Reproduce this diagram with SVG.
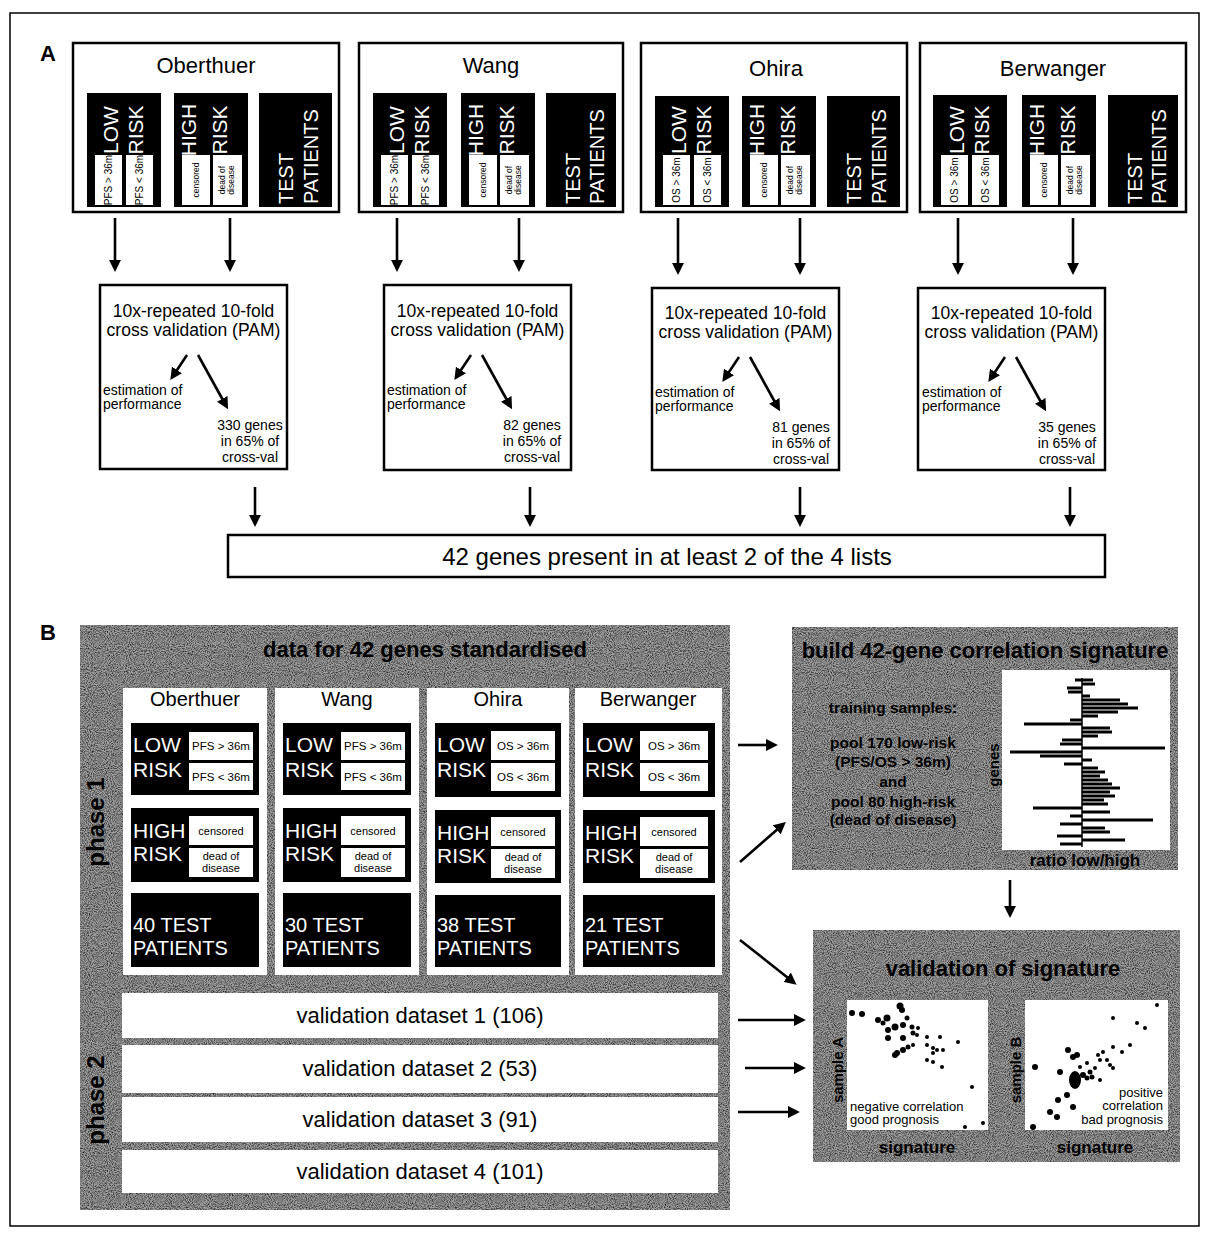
<svg xmlns="http://www.w3.org/2000/svg" width="1210" height="1237" viewBox="0 0 1210 1237">
  <defs>
    <style>
      text { font-family: "Liberation Sans", Arial, sans-serif; fill: #000; }
      .box { fill: #fff; stroke: #000; stroke-width: 2.5; }
      .blk { fill: #000; }
      .wsub { fill: #fff; }
      .ttl { font-size: 22px; text-anchor: middle; }
      .rot { text-anchor: middle; }
      .tiny { font-size: 10px; text-anchor: middle; }
      .tiny2 { font-size: 8.5px; text-anchor: middle; }
      .cv { font-size: 17.5px; text-anchor: middle; }
      .sm { font-size: 14px; }
      .smc { font-size: 14px; text-anchor: middle; }
      .bt { font-size: 20px; text-anchor: middle; }
      .lr { font-size: 21px; fill: #fff; }
      .tp { font-size: 20px; fill: #fff; }
      .sub { font-size: 11.5px; text-anchor: middle; }
      .sub2 { font-size: 11px; text-anchor: middle; }
      .val { font-size: 22px; text-anchor: middle; }
      .hd { font-size: 22px; font-weight: bold; text-anchor: middle; fill: #000; }
      .bold { font-weight: bold; fill: #000; }
      .arrow { stroke: #000; stroke-width: 2.6; fill: none; marker-end: url(#ah); }
      .white { fill: #fff; }
      .dot { fill: #000; }
      .panel { fill: #a0a0a0; }
    </style>
    <marker id="ah" viewBox="0 0 10 10" refX="3" refY="5" markerWidth="12" markerHeight="12" markerUnits="userSpaceOnUse" orient="auto">
      <path d="M0,0 L10,5 L0,10 z" fill="#000"/>
    </marker>
    <!-- fine speckle used on the grey panels -->
    <filter id="grain" x="0" y="0" width="1" height="1" color-interpolation-filters="sRGB">
      <feTurbulence type="fractalNoise" baseFrequency="0.95" numOctaves="2" seed="7"/>
      <feColorMatrix type="matrix" values="0 0 0 0 0  0 0 0 0 0  0 0 0 0 0  1.6 0 0 0 -0.58"/>
    </filter>
  </defs>

  <rect width="1210" height="1237" fill="#fff"/>
  <!-- outer frame -->
  <rect x="10" y="13" width="1189" height="1213" fill="none" stroke="#000" stroke-width="1.5"/>

  <!-- ===================== Panel A ===================== -->
  <text x="40" y="61" font-size="22" font-weight="bold">A</text>

  <!-- Oberthuer -->
  <g id="a-oberthuer">
    <rect class="box" x="73" y="43" width="266" height="169"/>
    <text class="ttl" x="206" y="73">Oberthuer</text>
    <rect class="blk" x="87" y="93" width="74" height="114"/>
    <rect class="wsub" x="95" y="155" width="27" height="50"/>
    <rect class="wsub" x="126" y="155" width="27" height="50"/>
    <text class="lr rot" transform="translate(118,130) rotate(-90)">LOW</text>
    <text class="lr rot" transform="translate(143,130) rotate(-90)">RISK</text>
    <text class="tiny" transform="translate(112,180) rotate(-90)">PFS &gt; 36m</text>
    <text class="tiny" transform="translate(143,180) rotate(-90)">PFS &lt; 36m</text>
    <rect class="blk" x="174" y="93" width="74" height="114"/>
    <rect class="wsub" x="182" y="155" width="28" height="50"/>
    <rect class="wsub" x="213" y="155" width="29" height="50"/>
    <text class="lr rot" transform="translate(196,130) rotate(-90)">HIGH</text>
    <text class="lr rot" transform="translate(227,130) rotate(-90)">RISK</text>
    <text class="tiny2" transform="translate(199,180) rotate(-90)">censored</text>
    <text class="tiny2" transform="translate(225,180) rotate(-90)">dead of</text>
    <text class="tiny2" transform="translate(234,180) rotate(-90)">disease</text>
    <rect class="blk" x="259" y="93" width="73" height="114"/>
    <text class="tp" font-size="19" transform="translate(293,204) rotate(-90)">TEST</text>
    <text class="tp" font-size="19" transform="translate(318,204) rotate(-90)">PATIENTS</text>
  </g>

  <!-- Wang -->
  <g id="a-wang">
    <rect class="box" x="359" y="43" width="264" height="169"/>
    <text class="ttl" x="491" y="73">Wang</text>
    <rect class="blk" x="373" y="93" width="74" height="114"/>
    <rect class="wsub" x="381" y="155" width="27" height="50"/>
    <rect class="wsub" x="412" y="155" width="27" height="50"/>
    <text class="lr rot" transform="translate(404,130) rotate(-90)">LOW</text>
    <text class="lr rot" transform="translate(429,130) rotate(-90)">RISK</text>
    <text class="tiny" transform="translate(398,180) rotate(-90)">PFS &gt; 36m</text>
    <text class="tiny" transform="translate(429,180) rotate(-90)">PFS &lt; 36m</text>
    <rect class="blk" x="461" y="93" width="74" height="114"/>
    <rect class="wsub" x="469" y="155" width="28" height="50"/>
    <rect class="wsub" x="500" y="155" width="29" height="50"/>
    <text class="lr rot" transform="translate(483,130) rotate(-90)">HIGH</text>
    <text class="lr rot" transform="translate(514,130) rotate(-90)">RISK</text>
    <text class="tiny2" transform="translate(486,180) rotate(-90)">censored</text>
    <text class="tiny2" transform="translate(512,180) rotate(-90)">dead of</text>
    <text class="tiny2" transform="translate(521,180) rotate(-90)">disease</text>
    <rect class="blk" x="546" y="93" width="70" height="114"/>
    <text class="tp" font-size="19" transform="translate(580,204) rotate(-90)">TEST</text>
    <text class="tp" font-size="19" transform="translate(604,204) rotate(-90)">PATIENTS</text>
  </g>

  <!-- Ohira -->
  <g id="a-ohira">
    <rect class="box" x="641" y="43" width="266" height="169"/>
    <text class="ttl" x="776" y="76">Ohira</text>
    <rect class="blk" x="655" y="96" width="74" height="111"/>
    <rect class="wsub" x="663" y="155" width="27" height="50"/>
    <rect class="wsub" x="694" y="155" width="27" height="50"/>
    <text class="lr rot" transform="translate(686,130) rotate(-90)">LOW</text>
    <text class="lr rot" transform="translate(711,130) rotate(-90)">RISK</text>
    <text class="tiny" transform="translate(680,180) rotate(-90)">OS &gt; 36m</text>
    <text class="tiny" transform="translate(711,180) rotate(-90)">OS &lt; 36m</text>
    <rect class="blk" x="742" y="96" width="74" height="111"/>
    <rect class="wsub" x="750" y="155" width="28" height="50"/>
    <rect class="wsub" x="781" y="155" width="29" height="50"/>
    <text class="lr rot" transform="translate(764,130) rotate(-90)">HIGH</text>
    <text class="lr rot" transform="translate(795,130) rotate(-90)">RISK</text>
    <text class="tiny2" transform="translate(767,180) rotate(-90)">censored</text>
    <text class="tiny2" transform="translate(793,180) rotate(-90)">dead of</text>
    <text class="tiny2" transform="translate(802,180) rotate(-90)">disease</text>
    <rect class="blk" x="827" y="96" width="73" height="111"/>
    <text class="tp" font-size="19" transform="translate(861,204) rotate(-90)">TEST</text>
    <text class="tp" font-size="19" transform="translate(886,204) rotate(-90)">PATIENTS</text>
  </g>

  <!-- Berwanger -->
  <g id="a-berwanger">
    <rect class="box" x="920" y="43" width="266" height="169"/>
    <text class="ttl" x="1053" y="76">Berwanger</text>
    <rect class="blk" x="933" y="95" width="74" height="112"/>
    <rect class="wsub" x="941" y="155" width="27" height="50"/>
    <rect class="wsub" x="972" y="155" width="27" height="50"/>
    <text class="lr rot" transform="translate(964,130) rotate(-90)">LOW</text>
    <text class="lr rot" transform="translate(989,130) rotate(-90)">RISK</text>
    <text class="tiny" transform="translate(958,180) rotate(-90)">OS &gt; 36m</text>
    <text class="tiny" transform="translate(989,180) rotate(-90)">OS &lt; 36m</text>
    <rect class="blk" x="1022" y="95" width="74" height="112"/>
    <rect class="wsub" x="1030" y="155" width="28" height="50"/>
    <rect class="wsub" x="1061" y="155" width="29" height="50"/>
    <text class="lr rot" transform="translate(1044,130) rotate(-90)">HIGH</text>
    <text class="lr rot" transform="translate(1075,130) rotate(-90)">RISK</text>
    <text class="tiny2" transform="translate(1047,180) rotate(-90)">censored</text>
    <text class="tiny2" transform="translate(1073,180) rotate(-90)">dead of</text>
    <text class="tiny2" transform="translate(1082,180) rotate(-90)">disease</text>
    <rect class="blk" x="1108" y="95" width="70" height="112"/>
    <text class="tp" font-size="19" transform="translate(1142,204) rotate(-90)">TEST</text>
    <text class="tp" font-size="19" transform="translate(1166,204) rotate(-90)">PATIENTS</text>
  </g>

  <!-- cross-validation boxes -->
  <g id="cv-oberthuer">
    <rect class="box" x="100" y="285" width="187" height="184"/>
    <text class="cv" x="193.5" y="317">10x-repeated 10-fold</text>
    <text class="cv" x="193.5" y="336">cross validation (PAM)</text>
    <text class="sm" x="103" y="395">estimation of</text>
    <text class="sm" x="103" y="409">performance</text>
    <text class="smc" x="250" y="430">330 genes</text>
    <text class="smc" x="250" y="446">in 65% of</text>
    <text class="smc" x="250" y="462">cross-val</text>
  </g>
  <g id="cv-wang">
    <rect class="box" x="384" y="285" width="187" height="185"/>
    <text class="cv" x="477.5" y="317">10x-repeated 10-fold</text>
    <text class="cv" x="477.5" y="336">cross validation (PAM)</text>
    <text class="sm" x="387" y="395">estimation of</text>
    <text class="sm" x="387" y="409">performance</text>
    <text class="smc" x="532" y="430">82 genes</text>
    <text class="smc" x="532" y="446">in 65% of</text>
    <text class="smc" x="532" y="462">cross-val</text>
  </g>
  <g id="cv-ohira">
    <rect class="box" x="652" y="288" width="187" height="182"/>
    <text class="cv" x="745.5" y="319">10x-repeated 10-fold</text>
    <text class="cv" x="745.5" y="338">cross validation (PAM)</text>
    <text class="sm" x="655" y="397">estimation of</text>
    <text class="sm" x="655" y="411">performance</text>
    <text class="smc" x="801" y="432">81 genes</text>
    <text class="smc" x="801" y="448">in 65% of</text>
    <text class="smc" x="801" y="464">cross-val</text>
  </g>
  <g id="cv-berwanger">
    <rect class="box" x="918" y="288" width="187" height="182"/>
    <text class="cv" x="1011.5" y="319">10x-repeated 10-fold</text>
    <text class="cv" x="1011.5" y="338">cross validation (PAM)</text>
    <text class="sm" x="922" y="397">estimation of</text>
    <text class="sm" x="922" y="411">performance</text>
    <text class="smc" x="1067" y="432">35 genes</text>
    <text class="smc" x="1067" y="448">in 65% of</text>
    <text class="smc" x="1067" y="464">cross-val</text>
  </g>

  <g id="gene-list">
    <rect class="box" x="228" y="535" width="877" height="42"/>
    <text x="667" y="565" font-size="24" text-anchor="middle">42 genes present in at least 2 of the 4 lists</text>
  </g>

  <!-- ===================== Panel B ===================== -->
  <text x="40" y="640" font-size="22" font-weight="bold">B</text>

  <g id="b-data">
    <rect class="panel" x="80" y="625" width="650" height="585"/>
    <rect x="80" y="625" width="650" height="585" filter="url(#grain)"/>
    <text class="hd" x="425" y="657">data for 42 genes standardised</text>
    <text class="bold" font-size="24" text-anchor="middle" transform="translate(104,822) rotate(-90)">phase 1</text>
    <text class="bold" font-size="24" text-anchor="middle" transform="translate(104,1100) rotate(-90)">phase 2</text>
  </g>

  <g id="b-oberthuer">
    <rect class="white" x="123" y="688" width="144" height="287"/>
    <text class="bt" x="195" y="706">Oberthuer</text>
    <rect class="blk" x="131" y="723" width="128" height="72"/>
    <text class="lr" x="133" y="752">LOW</text>
    <text class="lr" x="133" y="777">RISK</text>
    <rect class="wsub" x="189" y="732" width="64" height="28"/>
    <rect class="wsub" x="189" y="763" width="64" height="27"/>
    <text class="sub" x="221" y="750">PFS &gt; 36m</text>
    <text class="sub" x="221" y="781">PFS &lt; 36m</text>
    <rect class="blk" x="131" y="808" width="128" height="74"/>
    <text class="lr" x="133" y="838">HIGH</text>
    <text class="lr" x="133" y="861">RISK</text>
    <rect class="wsub" x="189" y="816" width="64" height="29"/>
    <rect class="wsub" x="189" y="848" width="64" height="29"/>
    <text class="sub2" x="221" y="835">censored</text>
    <text class="sub2" x="221" y="860">dead of</text>
    <text class="sub2" x="221" y="872">disease</text>
    <rect class="blk" x="131" y="893" width="128" height="74"/>
    <text class="tp" x="133" y="932">40 TEST</text>
    <text class="tp" x="133" y="955">PATIENTS</text>
  </g>

  <g id="b-wang">
    <rect class="white" x="275" y="688" width="144" height="287"/>
    <text class="bt" x="347" y="706">Wang</text>
    <rect class="blk" x="283" y="723" width="128" height="72"/>
    <text class="lr" x="285" y="752">LOW</text>
    <text class="lr" x="285" y="777">RISK</text>
    <rect class="wsub" x="341" y="732" width="64" height="28"/>
    <rect class="wsub" x="341" y="763" width="64" height="27"/>
    <text class="sub" x="373" y="750">PFS &gt; 36m</text>
    <text class="sub" x="373" y="781">PFS &lt; 36m</text>
    <rect class="blk" x="283" y="808" width="128" height="74"/>
    <text class="lr" x="285" y="838">HIGH</text>
    <text class="lr" x="285" y="861">RISK</text>
    <rect class="wsub" x="341" y="816" width="64" height="29"/>
    <rect class="wsub" x="341" y="848" width="64" height="29"/>
    <text class="sub2" x="373" y="835">censored</text>
    <text class="sub2" x="373" y="860">dead of</text>
    <text class="sub2" x="373" y="872">disease</text>
    <rect class="blk" x="283" y="893" width="128" height="74"/>
    <text class="tp" x="285" y="932">30 TEST</text>
    <text class="tp" x="285" y="955">PATIENTS</text>
  </g>

  <g id="b-ohira">
    <rect class="white" x="427" y="688" width="142" height="287"/>
    <text class="bt" x="498" y="706">Ohira</text>
    <rect class="blk" x="435" y="723" width="126" height="74"/>
    <text class="lr" x="437" y="752">LOW</text>
    <text class="lr" x="437" y="777">RISK</text>
    <rect class="wsub" x="491" y="731" width="64" height="29"/>
    <rect class="wsub" x="491" y="763" width="64" height="28"/>
    <text class="sub" x="523" y="750">OS &gt; 36m</text>
    <text class="sub" x="523" y="781">OS &lt; 36m</text>
    <rect class="blk" x="435" y="810" width="126" height="73"/>
    <text class="lr" x="437" y="840">HIGH</text>
    <text class="lr" x="437" y="863">RISK</text>
    <rect class="wsub" x="491" y="817" width="64" height="29"/>
    <rect class="wsub" x="491" y="849" width="64" height="29"/>
    <text class="sub2" x="523" y="836">censored</text>
    <text class="sub2" x="523" y="861">dead of</text>
    <text class="sub2" x="523" y="873">disease</text>
    <rect class="blk" x="435" y="895" width="126" height="72"/>
    <text class="tp" x="437" y="932">38 TEST</text>
    <text class="tp" x="437" y="955">PATIENTS</text>
  </g>

  <g id="b-berwanger">
    <rect class="white" x="575" y="688" width="147" height="287"/>
    <text class="bt" x="648" y="706">Berwanger</text>
    <rect class="blk" x="583" y="723" width="132" height="74"/>
    <text class="lr" x="585" y="752">LOW</text>
    <text class="lr" x="585" y="777">RISK</text>
    <rect class="wsub" x="640" y="731" width="68" height="29"/>
    <rect class="wsub" x="640" y="763" width="68" height="28"/>
    <text class="sub" x="674" y="750">OS &gt; 36m</text>
    <text class="sub" x="674" y="781">OS &lt; 36m</text>
    <rect class="blk" x="583" y="810" width="132" height="73"/>
    <text class="lr" x="585" y="840">HIGH</text>
    <text class="lr" x="585" y="863">RISK</text>
    <rect class="wsub" x="640" y="817" width="68" height="29"/>
    <rect class="wsub" x="640" y="849" width="68" height="29"/>
    <text class="sub2" x="674" y="836">censored</text>
    <text class="sub2" x="674" y="861">dead of</text>
    <text class="sub2" x="674" y="873">disease</text>
    <rect class="blk" x="583" y="895" width="132" height="72"/>
    <text class="tp" x="585" y="932">21 TEST</text>
    <text class="tp" x="585" y="955">PATIENTS</text>
  </g>

  <g id="validation-1">
    <rect class="white" x="122" y="993" width="596" height="45"/>
    <text class="val" x="420" y="1023">validation dataset 1 (106)</text>
  </g>
  <g id="validation-2">
    <rect class="white" x="122" y="1045" width="596" height="48"/>
    <text class="val" x="420" y="1076">validation dataset 2 (53)</text>
  </g>
  <g id="validation-3">
    <rect class="white" x="122" y="1097" width="596" height="45"/>
    <text class="val" x="420" y="1127">validation dataset 3 (91)</text>
  </g>
  <g id="validation-4">
    <rect class="white" x="122" y="1150" width="596" height="43"/>
    <text class="val" x="420" y="1179">validation dataset 4 (101)</text>
  </g>

  <!-- signature construction -->
  <g id="build-signature">
    <rect class="panel" x="792" y="627" width="386" height="243"/>
    <rect x="792" y="627" width="386" height="243" filter="url(#grain)"/>
    <text class="hd" x="985" y="658">build 42-gene correlation signature</text>
    <g class="bold" font-size="15.5" text-anchor="middle">
      <text x="893" y="713">training samples:</text>
      <text x="893" y="748">pool 170 low-risk</text>
      <text x="893" y="767">(PFS/OS &gt; 36m)</text>
      <text x="893" y="787">and</text>
      <text x="893" y="807">pool 80 high-risk</text>
      <text x="893" y="825">(dead of disease)</text>
    </g>
    <rect class="white" x="1002" y="670" width="168" height="180"/>
    <text class="bold" font-size="15" text-anchor="middle" transform="translate(999,765) rotate(-90)">genes</text>
    <text class="bold" font-size="17" text-anchor="middle" x="1085" y="866">ratio low/high</text>
    <line x1="1082" y1="678" x2="1082" y2="847" stroke="#000" stroke-width="1.5"/>
    <path stroke="#000" stroke-width="3" fill="none" d="
      M1075,680 H1093 M1082,684 H1095 M1067,688 H1082 M1068,692 H1082 M1082,696 H1090
      M1082,700 H1120 M1082,704 H1128 M1082,708 H1138 M1082,712 H1118 M1082,716 H1098
      M1070,720 H1082 M1024,724 H1082 M1082,728 H1110 M1082,732 H1112 M1082,736 H1098
      M1062,740 H1082 M1060,744 H1082 M1082,748 H1165 M1010,752 H1082 M1040,756 H1082
      M1082,760 H1092 M1064,764 H1082 M1082,768 H1098 M1082,772 H1105 M1082,776 H1100
      M1082,780 H1108 M1082,784 H1112 M1082,788 H1120 M1082,792 H1110 M1082,796 H1115
      M1082,800 H1104 M1082,804 H1108 M1033,808 H1082 M1082,812 H1110 M1070,816 H1082
      M1082,820 H1153 M1060,824 H1082 M1082,828 H1105 M1082,832 H1110 M1057,836 H1082
      M1082,840 H1125 M1060,844 H1082"/>
  </g>

  <!-- validation of the signature -->
  <g id="validate-signature">
    <rect class="panel" x="813" y="930" width="367" height="232"/>
    <rect x="813" y="930" width="367" height="232" filter="url(#grain)"/>
    <text class="hd" x="1003" y="976">validation of signature</text>
    <rect class="white" x="847" y="1000" width="141" height="130"/>
    <rect class="white" x="1025" y="1000" width="143" height="130"/>
    <text class="bold" font-size="15" text-anchor="middle" transform="translate(843,1070) rotate(-90)">sample A</text>
    <text class="bold" font-size="15" text-anchor="middle" transform="translate(1021,1070) rotate(-90)">sample B</text>
    <text class="bold" font-size="17" text-anchor="middle" x="917" y="1153">signature</text>
    <text class="bold" font-size="17" text-anchor="middle" x="1095" y="1153">signature</text>
    <text font-size="13" x="850" y="1111">negative correlation</text>
    <text font-size="13" x="850" y="1124">good prognosis</text>
    <text font-size="13" x="1163" y="1097" text-anchor="end">positive</text>
    <text font-size="13" x="1163" y="1110" text-anchor="end">correlation</text>
    <text font-size="13" x="1163" y="1124" text-anchor="end">bad prognosis</text>
    <g class="dot">
      <circle cx="852" cy="1013" r="3"/><circle cx="862" cy="1014" r="3"/><circle cx="878" cy="1020" r="3"/>
      <circle cx="887" cy="1018" r="3.5"/><circle cx="900" cy="1006" r="3.5"/><circle cx="902" cy="1010" r="3"/>
      <circle cx="888" cy="1030" r="3"/><circle cx="895" cy="1027" r="3.5"/><circle cx="903" cy="1025" r="3"/>
      <circle cx="907" cy="1018" r="2.5"/><circle cx="912" cy="1027" r="2.5"/><circle cx="888" cy="1038" r="3"/>
      <circle cx="903" cy="1038" r="3"/><circle cx="913" cy="1033" r="2.5"/><circle cx="918" cy="1028" r="2"/>
      <circle cx="917" cy="1035" r="2"/><circle cx="927" cy="1037" r="2"/><circle cx="940" cy="1037" r="2"/>
      <circle cx="958" cy="1042" r="2"/><circle cx="903" cy="1050" r="3"/><circle cx="897" cy="1053" r="3"/>
      <circle cx="908" cy="1047" r="2.5"/><circle cx="913" cy="1045" r="2"/><circle cx="927" cy="1045" r="2"/>
      <circle cx="933" cy="1048" r="2"/><circle cx="937" cy="1050" r="2"/><circle cx="943" cy="1050" r="2"/>
      <circle cx="933" cy="1053" r="2"/><circle cx="927" cy="1060" r="2"/><circle cx="933" cy="1062" r="2"/>
      <circle cx="942" cy="1067" r="2"/><circle cx="972" cy="1087" r="2"/><circle cx="965" cy="1127" r="2"/>
      <circle cx="983" cy="1123" r="2"/><circle cx="895" cy="1055" r="3"/><circle cx="883" cy="1023" r="2.5"/>
      <circle cx="1157" cy="1005" r="2"/><circle cx="1113" cy="1018" r="2"/><circle cx="1137" cy="1023" r="2"/>
      <circle cx="1145" cy="1028" r="2"/><circle cx="1130" cy="1045" r="2"/><circle cx="1113" cy="1047" r="2"/>
      <circle cx="1068" cy="1050" r="3"/><circle cx="1073" cy="1057" r="3"/><circle cx="1077" cy="1055" r="3"/>
      <circle cx="1098" cy="1055" r="2"/><circle cx="1103" cy="1052" r="2"/><circle cx="1107" cy="1060" r="2"/>
      <circle cx="1100" cy="1060" r="2"/><circle cx="1110" cy="1065" r="2"/><circle cx="1113" cy="1068" r="2"/>
      <circle cx="1035" cy="1067" r="3"/><circle cx="1060" cy="1072" r="3"/><circle cx="1080" cy="1067" r="2"/>
      <circle cx="1087" cy="1063" r="2"/><circle cx="1090" cy="1072" r="2.5"/><circle cx="1083" cy="1075" r="3"/>
      <circle cx="1092" cy="1077" r="2.5"/><circle cx="1100" cy="1080" r="2"/><circle cx="1087" cy="1078" r="2.5"/>
      <circle cx="1067" cy="1095" r="3"/><circle cx="1058" cy="1100" r="3"/><circle cx="1073" cy="1107" r="3"/>
      <circle cx="1050" cy="1112" r="3"/><circle cx="1057" cy="1117" r="3"/><circle cx="1033" cy="1127" r="3"/>
      <circle cx="1122" cy="1052" r="2"/><circle cx="1095" cy="1068" r="2"/>
      <ellipse cx="1075" cy="1080" rx="6" ry="9"/>
    </g>
  </g>

  <!-- connectors -->
  <g id="connectors">
    <line class="arrow" x1="115" y1="218" x2="115" y2="263.5"/>
    <line class="arrow" x1="230" y1="218" x2="230" y2="263.5"/>
    <line class="arrow" x1="397" y1="218" x2="397" y2="263.5"/>
    <line class="arrow" x1="519" y1="218" x2="519" y2="263.5"/>
    <line class="arrow" x1="678" y1="218" x2="678" y2="266.5"/>
    <line class="arrow" x1="800" y1="218" x2="800" y2="266.5"/>
    <line class="arrow" x1="958" y1="218" x2="958" y2="266.5"/>
    <line class="arrow" x1="1073" y1="218" x2="1073" y2="266.5"/>

    <line class="arrow" x1="187" y1="355" x2="175" y2="373"/>
    <line class="arrow" x1="198" y1="355" x2="224" y2="402"/>
    <line class="arrow" x1="471" y1="355" x2="459" y2="373"/>
    <line class="arrow" x1="482" y1="355" x2="508" y2="402"/>
    <line class="arrow" x1="739" y1="357" x2="727" y2="375"/>
    <line class="arrow" x1="750" y1="357" x2="776" y2="404"/>
    <line class="arrow" x1="1005" y1="357" x2="993" y2="375"/>
    <line class="arrow" x1="1016" y1="357" x2="1042" y2="404"/>

    <line class="arrow" x1="255" y1="487" x2="255" y2="518.5"/>
    <line class="arrow" x1="530" y1="487" x2="530" y2="518.5"/>
    <line class="arrow" x1="800" y1="487" x2="800" y2="518.5"/>
    <line class="arrow" x1="1070" y1="487" x2="1070" y2="518.5"/>

    <line class="arrow" x1="738" y1="745" x2="769.5" y2="745"/>
    <line class="arrow" x1="740" y1="862" x2="779.5" y2="827.5"/>
    <line class="arrow" x1="740" y1="940" x2="790" y2="979.5"/>
    <line class="arrow" x1="738" y1="1020" x2="797.5" y2="1020"/>
    <line class="arrow" x1="745" y1="1068" x2="797.5" y2="1068"/>
    <line class="arrow" x1="738" y1="1112" x2="791.5" y2="1112"/>
    <line class="arrow" x1="1010" y1="880" x2="1010" y2="909.5"/>
  </g>
</svg>
